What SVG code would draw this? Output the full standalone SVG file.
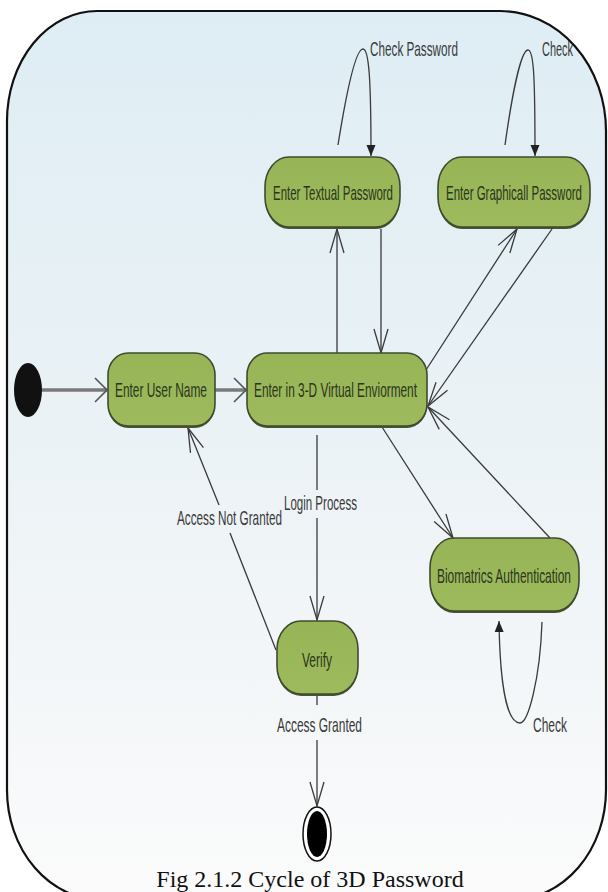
<svg xmlns="http://www.w3.org/2000/svg" width="608" height="892" viewBox="0 0 608 892">
<defs>
<linearGradient id="bg" x1="0" y1="0" x2="0" y2="1">
<stop offset="0" stop-color="#deedf4"/>
<stop offset="0.55" stop-color="#edf3f6"/>
<stop offset="1" stop-color="#fbfbfb"/>
</linearGradient>
<linearGradient id="green" x1="0" y1="0" x2="0" y2="1">
<stop offset="0" stop-color="#97b456"/>
<stop offset="1" stop-color="#9dba5c"/>
</linearGradient>
<marker id="open" markerUnits="userSpaceOnUse" markerWidth="40" markerHeight="40" viewBox="-30 -20 40 40" refX="0" refY="0" orient="auto" overflow="visible">
<path d="M-24,-7 L0,0 L-24,7" fill="none" stroke="#3a3a3a" stroke-width="1.3"/>
</marker>
<marker id="openWide" markerUnits="userSpaceOnUse" markerWidth="40" markerHeight="40" viewBox="-30 -20 40 40" refX="0" refY="0" orient="auto" overflow="visible">
<path d="M-12,-12 L0,0 L-12,12" fill="none" stroke="#555" stroke-width="1.6"/>
</marker>
<marker id="filled" markerUnits="userSpaceOnUse" markerWidth="20" markerHeight="20" viewBox="-15 -10 20 20" refX="0" refY="0" orient="auto" overflow="visible">
<path d="M-11,-4.5 L0,0 L-11,4.5 Z" fill="#222"/>
</marker>
</defs>
<style>
.frame{fill:url(#bg);stroke:#111;stroke-width:2.2}
.node{fill:url(#green);stroke:#3f4b2e;stroke-width:1.6}
.shadow{fill:#4a5536}
.ntext{font-family:"Liberation Sans",Arial,sans-serif;font-size:11.8px;fill:#2b3520}
.ltext{font-family:"Liberation Sans",Arial,sans-serif;font-size:11.8px;fill:#3a3a3a}
.edge{fill:none;stroke:#3a3a3a;stroke-width:1.3}
.thick{fill:none;stroke:#7a7a7a;stroke-width:3.5}
.caption{font-family:"Liberation Serif","Times New Roman",serif;font-size:24px;fill:#111}
</style>

<path class="frame" d="M97,11 L500,11 A106,120 0 0 1 606,131 L606,790 A95,110 0 0 1 511,900 L102,900 A95,110 0 0 1 7,790 L7,121 A90,110 0 0 1 97,11 Z"/>

<g id="connectors">
<line class="thick" x1="42" y1="390" x2="107" y2="390" marker-end="url(#openWide)"/>
<line class="thick" x1="215" y1="390" x2="246" y2="390" marker-end="url(#openWide)"/>
<line class="edge" x1="337" y1="353" x2="337" y2="229" marker-end="url(#open)"/>
<line class="edge" x1="381" y1="229" x2="381" y2="353" marker-end="url(#open)"/>
<line class="edge" x1="426" y1="370" x2="517" y2="229" marker-end="url(#open)"/>
<line class="edge" x1="552" y1="229" x2="428" y2="406" marker-end="url(#open)"/>
<line class="edge" x1="382" y1="427" x2="453" y2="538" marker-end="url(#open)"/>
<line class="edge" x1="550" y1="538" x2="428" y2="407" marker-end="url(#open)"/>
<line class="edge" x1="317" y1="435" x2="317" y2="490"/>
<line class="edge" x1="317" y1="518" x2="317" y2="620" marker-end="url(#open)"/>
<line class="edge" x1="276" y1="650" x2="230" y2="533"/>
<line class="edge" x1="219" y1="505" x2="188" y2="428" marker-end="url(#open)"/>
<line class="edge" x1="317" y1="695" x2="317" y2="705"/>
<line class="edge" x1="317" y1="740" x2="317" y2="806" marker-end="url(#open)"/>
<path class="edge" d="M338,145 C346,95 355,49 363,49 C369,49 371,80 371,156" marker-end="url(#filled)"/>
<path class="edge" d="M505,145 C512,95 521,50 528,50 C534,50 535,80 535,156" marker-end="url(#filled)"/>
<path class="edge" d="M542,622 C540,680 528,723 520,723 C508,723 500,690 499,621" marker-end="url(#filled)"/>
<text class="ltext" transform="matrix(1 0 0 1.75 0 56)" x="370" y="0" textLength="88" lengthAdjust="spacingAndGlyphs">Check Password</text>
<text class="ltext" transform="matrix(1 0 0 1.75 0 56)" x="542" y="0" textLength="31" lengthAdjust="spacingAndGlyphs">Check</text>
<text class="ltext" transform="matrix(1 0 0 1.75 0 510)" x="284" y="0" textLength="73" lengthAdjust="spacingAndGlyphs">Login Process</text>
<text class="ltext" transform="matrix(1 0 0 1.75 0 525)" x="177" y="0" textLength="105" lengthAdjust="spacingAndGlyphs">Access Not Granted</text>
<text class="ltext" transform="matrix(1 0 0 1.75 0 732)" x="277" y="0" textLength="85" lengthAdjust="spacingAndGlyphs">Access Granted</text>
<text class="ltext" transform="matrix(1 0 0 1.75 0 732)" x="533" y="0" textLength="34" lengthAdjust="spacingAndGlyphs">Check</text>
</g>

<g id="start">
<ellipse cx="28" cy="390" rx="14" ry="27" fill="#111"/>
</g>

<g id="enterUserName">
<rect class="shadow" x="108" y="355" width="107" height="73" rx="20" ry="22"/>
<rect class="node" x="108" y="353" width="107" height="73" rx="20" ry="22"/>
<text class="ntext" transform="matrix(1 0 0 1.75 0 397)" x="115" y="0" textLength="92" lengthAdjust="spacingAndGlyphs">Enter User Name</text>
</g>

<g id="enter3D">
<rect class="shadow" x="247" y="355" width="180" height="73" rx="20" ry="22"/>
<rect class="node" x="247" y="353" width="180" height="73" rx="20" ry="22"/>
<text class="ntext" transform="matrix(1 0 0 1.75 0 397)" x="254" y="0" textLength="163" lengthAdjust="spacingAndGlyphs">Enter in 3-D Virtual Enviorment</text>
</g>

<g id="textualPassword">
<rect class="shadow" x="265" y="159" width="135" height="70" rx="24" ry="30"/>
<rect class="node" x="265" y="157" width="135" height="70" rx="24" ry="30"/>
<text class="ntext" transform="matrix(1 0 0 1.75 0 200)" x="273" y="0" textLength="120" lengthAdjust="spacingAndGlyphs">Enter Textual Password</text>
</g>

<g id="graphicalPassword">
<rect class="shadow" x="438" y="159" width="152" height="70" rx="24" ry="30"/>
<rect class="node" x="438" y="157" width="152" height="70" rx="24" ry="30"/>
<text class="ntext" transform="matrix(1 0 0 1.75 0 200)" x="446" y="0" textLength="136" lengthAdjust="spacingAndGlyphs">Enter Graphicall Password</text>
</g>

<g id="biometrics">
<rect class="shadow" x="430" y="540" width="149" height="73" rx="24" ry="30"/>
<rect class="node" x="430" y="538" width="149" height="73" rx="24" ry="30"/>
<text class="ntext" transform="matrix(1 0 0 1.75 0 583)" x="437" y="0" textLength="134" lengthAdjust="spacingAndGlyphs">Biomatrics Authentication</text>
</g>

<g id="verify">
<rect class="shadow" x="277" y="623" width="81" height="73" rx="24" ry="28"/>
<rect class="node" x="277" y="621" width="81" height="73" rx="24" ry="28"/>
<text class="ntext" transform="matrix(1 0 0 1.75 0 667)" x="302" y="0" textLength="30" lengthAdjust="spacingAndGlyphs">Verify</text>
</g>

<g id="end">
<ellipse cx="317" cy="834" rx="14" ry="27" fill="#fff" stroke="#111" stroke-width="1.5"/>
<ellipse cx="317" cy="834" rx="10" ry="23" fill="#000"/>
</g>

<text class="caption" x="310" y="887" text-anchor="middle">Fig 2.1.2 Cycle of 3D Password</text>
</svg>
